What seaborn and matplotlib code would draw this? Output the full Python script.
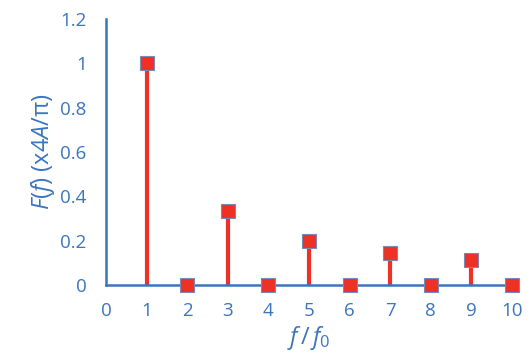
import matplotlib
matplotlib.use("Agg")
import matplotlib.pyplot as plt
import seaborn as sns
import pandas as pd

harmonics = [1, 2, 3, 4, 5, 6, 7, 8, 9, 10]
amplitudes = [1.0, 0.0, 0.333, 0.0, 0.2, 0.0, 0.143, 0.0, 0.111, 0.0]
x_ticks = [0, 1, 2, 3, 4, 5, 6, 7, 8, 9, 10]
y_ticks = [0, 0.2, 0.4, 0.6, 0.8, 1.0, 1.2]
y_tick_labels = ["0", "0.2", "0.4", "0.6", "0.8", "1", "1.2"]

df = pd.DataFrame({"f": harmonics, "F": amplitudes})

sns.set_style("white")
plt.rcParams['font.family'] = ['Open Sans', 'DejaVu Sans']
plt.rcParams['mathtext.fontset'] = 'custom'
plt.rcParams['mathtext.it'] = 'Open Sans:italic'
plt.rcParams['mathtext.rm'] = 'Open Sans'
blue = "#3A75BE"
red = "#EE3124"

fig = plt.figure(figsize=(5.32, 3.64), dpi=100)
ax = fig.add_axes([106/532, 1-285/364, (512-106)/532, (285-19)/364])

ax.vlines(df["f"], 0, df["F"], color=red, lw=3, zorder=2)
sns.scatterplot(data=df, x="f", y="F", ax=ax, marker="s", s=110, color=red,
                edgecolor="#7A8AB8", linewidth=0.8, zorder=4, clip_on=False)

ax.set_xlim(0, 10)
ax.set_ylim(0, 1.2)
ax.set_xticks(x_ticks)
ax.set_xticklabels([str(t) for t in x_ticks])
ax.set_yticks(y_ticks)
ax.set_yticklabels(y_tick_labels)

for s in ["top", "right"]:
    ax.spines[s].set_visible(False)
for s in ["left", "bottom"]:
    ax.spines[s].set_color(blue)
    ax.spines[s].set_linewidth(1.8)
    ax.spines[s].set_zorder(3)

ax.tick_params(axis="y", direction="in", length=6, width=1.5, color=blue,
               labelcolor=blue, labelsize=13.5, pad=14)
ax.tick_params(axis="x", length=0, labelcolor=blue, labelsize=13.5, pad=12)

ax.set_xlabel(r"$f\,/\,f_{\mathit{0}}$", color=blue, fontsize=17, labelpad=3)
ax.set_ylabel(r"$F(f)$ (x4$A$/π)", color=blue, fontsize=17, labelpad=2)

fig.savefig("out.png", dpi=100)
